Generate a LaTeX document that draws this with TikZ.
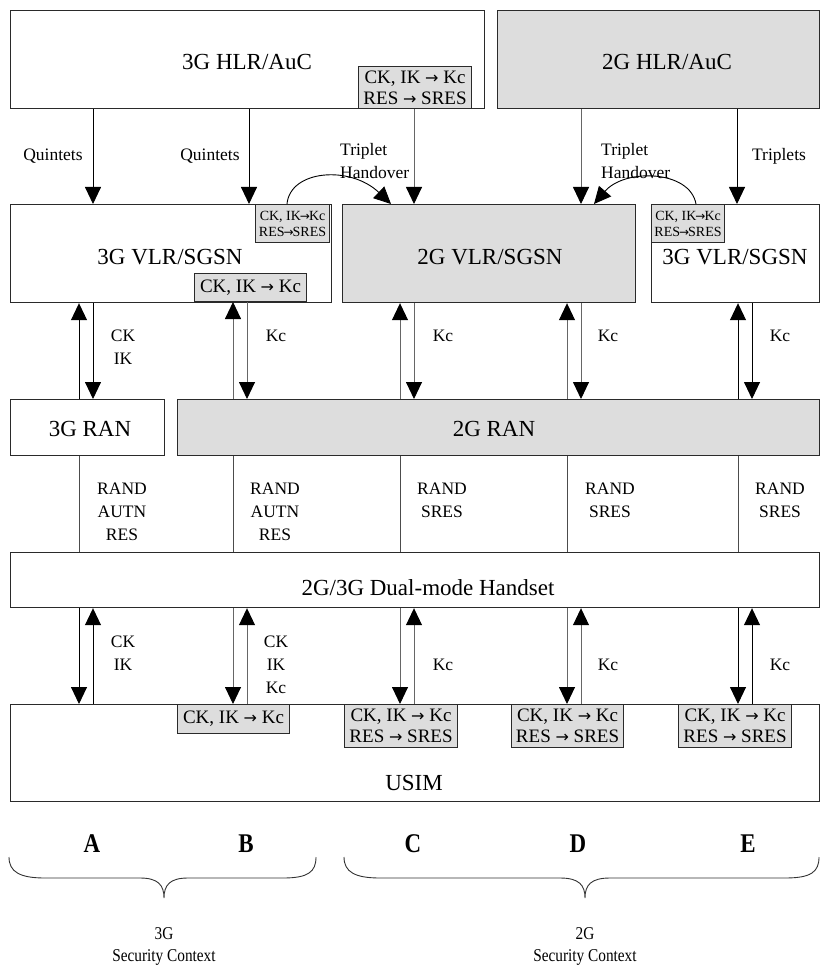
\documentclass[tikz,border=0pt]{standalone}
\usepackage{fontspec}
\setmainfont{Liberation Serif}
\newfontfamily\narrowserif[FakeStretch=0.85]{Liberation Serif}
\newfontfamily\arrowfont{DejaVu Sans}
\newcommand\rarr[1]{{\arrowfont\fontsize{#1}{#1}\selectfont →}}
\usetikzlibrary{arrows.meta}

\definecolor{boxgray}{HTML}{DDDDDD}
\definecolor{edge}{HTML}{2A2A2A}

\tikzset{
  unit/.style={draw=edge, line width=1.2pt, rectangle, inner sep=0pt, anchor=north west},
  unitgray/.style={unit, fill=boxgray},
  calc/.style={draw=edge, line width=1.1pt, fill=boxgray, inner sep=0pt, anchor=north west,
               align=center, font=\fontsize{19}{21}\selectfont},
  calcsmall/.style={calc, font=\fontsize{14}{16}\selectfont},
  title/.style={font=\fontsize{23}{27}\selectfont, inner sep=0pt},
  tag/.style={font=\fontsize{17.5}{23}\selectfont, align=center, inner sep=0pt},
  flow/.style={line width=0.9pt, draw=black, -{Triangle[length=17pt,width=16pt,color=black]}},
  flowg/.style={flow, draw=black!60},
  wire/.style={line width=0.9pt, draw=black!70},
  letter/.style={font=\fontsize{27}{30}\narrowserif\bfseries, inner sep=0pt},
  ctx/.style={font=\fontsize{18}{22}\narrowserif, align=center, inner sep=0pt},
  brace/.style={line width=0.9pt, draw=black!80},
}

\begin{document}
\begin{tikzpicture}[x=1pt, y=-1pt]
\useasboundingbox (0,0) rectangle (820,965);

% column positions of the signal lines
\coordinate (cA1) at (79,0);   \coordinate (cA2) at (93,0);
\coordinate (cB1) at (233,0);  \coordinate (cB2) at (247,0);
\coordinate (cC1) at (400,0);  \coordinate (cC2) at (414,0);
\coordinate (cD1) at (567,0);  \coordinate (cD2) at (581,0);
\coordinate (cE1) at (738,0);  \coordinate (cE2) at (752,0);
\coordinate (q2) at (249,0);   \coordinate (tr) at (737,0);
\coordinate (hoA) at (287,0);  \coordinate (hoAe) at (391,0);
\coordinate (hoB) at (696,0);  \coordinate (hoBe) at (594,0);

% home registers
\node[unit, minimum width=474pt, minimum height=98pt] (hlr3) at (10,10) {};
\node[title] (hlr3t) at (247,62) {3G HLR/AuC};
\node[calc, minimum width=113pt, minimum height=42pt] (hlr3c) at (358,66) {CK, IK \rarr{16} Kc\\RES \rarr{16} SRES};
\node[unitgray, minimum width=322pt, minimum height=98pt] (hlr2) at (497,10) {};
\node[title] (hlr2t) at (667,62) {2G HLR/AuC};

% visited registers
\node[unit, minimum width=321pt, minimum height=98pt] (vlr3a) at (10,204) {};
\node[title] (vlr3at) at (170,257) {3G VLR/SGSN};
\node[calcsmall, minimum width=74pt, minimum height=38pt] (vlr3ac) at (255,204) {CK, IK\kern-1pt\rarr{12}\kern-1ptKc\\RES\kern-1pt\rarr{12}\kern-1ptSRES};
\node[calc, minimum width=112pt, minimum height=28pt, anchor=south west] (vlr3ak) at (194,302) {CK, IK \rarr{16} Kc};
\node[unitgray, minimum width=293pt, minimum height=98pt] (vlr2) at (342,204) {};
\node[title] (vlr2t) at (490,257) {2G VLR/SGSN};
\node[unit, minimum width=168pt, minimum height=98pt] (vlr3b) at (651,204) {};
\node[title] (vlr3bt) at (735,257) {3G VLR/SGSN};
\node[calcsmall, minimum width=73pt, minimum height=38pt] (vlr3bc) at (651,204) {CK, IK\kern-1pt\rarr{12}\kern-1ptKc\\RES\kern-1pt\rarr{12}\kern-1ptSRES};

% radio access networks
\node[unit, minimum width=154pt, minimum height=56pt] (ran3) at (10,399) {};
\node[title] (ran3t) at (90,429) {3G RAN};
\node[unitgray, minimum width=642pt, minimum height=56pt] (ran2) at (177,399) {};
\node[title] (ran2t) at (494,429) {2G RAN};

% handset
\node[unit, minimum width=809pt, minimum height=55pt] (hset) at (10,552) {};
\node[title] (hsett) at (428,588) {2G/3G Dual-mode Handset};

% USIM with its conversion functions
\node[unit, minimum width=809pt, minimum height=97pt] (usim) at (10,704) {};
\node[title] (usimt) at (414,783) {USIM};
\node[calc, minimum width=112pt, minimum height=29pt] (usimB) at (177,704) {CK, IK \rarr{16} Kc};
\node[calc, minimum width=113pt, minimum height=43pt] (usimC) at (344,704) {CK, IK \rarr{16} Kc\\RES \rarr{16} SRES};
\node[calc, minimum width=112pt, minimum height=43pt] (usimD) at (511,704) {CK, IK \rarr{16} Kc\\RES \rarr{16} SRES};
\node[calc, minimum width=113pt, minimum height=43pt] (usimE) at (678,704) {CK, IK \rarr{16} Kc\\RES \rarr{16} SRES};

% HLR -> VLR
\draw[flow] (hlr3.south -| cA2) -- (vlr3a.north -| cA2);
\draw[flow] (hlr3.south -| q2) -- (vlr3a.north -| q2);
\draw[flowg] (hlr3c.south -| cC2) -- (vlr2.north -| cC2);
\draw[flowg] (hlr2.south -| cD2) -- (vlr2.north -| cD2);
\draw[flow] (hlr2.south -| tr) -- (vlr3b.north -| tr);
\node[tag] (lq1) at (53,156) {Quintets};
\node[tag] (lq2) at (210,156) {Quintets};
\node[tag, align=left, anchor=west] (lh1) at (340,161) {Triplet\\Handover};
\node[tag, align=left, anchor=west] (lh2) at (601,161) {Triplet\\Handover};
\node[tag] (lt) at (779,156) {Triplets};

% triplet handovers between visited registers
\draw[flow] (vlr3ac.north -| hoA) .. controls +(3,-34) and +(-41,-39) .. (vlr2.north -| hoAe);
\draw[flow] (vlr3bc.north -| hoB) .. controls +(-6,-34) and +(31,-36) .. (vlr2.north -| hoBe);

% VLR <-> RAN
\draw[flow] (ran3.north -| cA1) -- (vlr3a.south -| cA1);
\draw[flow] (vlr3a.south -| cA2) -- (ran3.north -| cA2);
\draw[flowg] (ran2.north -| cB1) -- (vlr3ak.south -| cB1);
\draw[flowg] (vlr3ak.south -| cB2) -- (ran2.north -| cB2);
\draw[flowg] (ran2.north -| cC1) -- (vlr2.south -| cC1);
\draw[flowg] (vlr2.south -| cC2) -- (ran2.north -| cC2);
\draw[flowg] (ran2.north -| cD1) -- (vlr2.south -| cD1);
\draw[flowg] (vlr2.south -| cD2) -- (ran2.north -| cD2);
\draw[flow] (ran2.north -| cE1) -- (vlr3b.south -| cE1);
\draw[flow] (vlr3b.south -| cE2) -- (ran2.north -| cE2);
\node[tag] (l2a) at (123,347) {CK\\IK};
\node[tag] (l2b) at (276,336) {Kc};
\node[tag] (l2c) at (443,336) {Kc};
\node[tag] (l2d) at (608,336) {Kc};
\node[tag] (l2e) at (780,336) {Kc};

% RAN <-> handset (air interface)
\draw[wire] (ran3.south -| cA1) -- (hset.north -| cA1);
\draw[wire] (ran2.south -| cB1) -- (hset.north -| cB1);
\draw[wire] (ran2.south -| cC1) -- (hset.north -| cC1);
\draw[wire] (ran2.south -| cD1) -- (hset.north -| cD1);
\draw[wire] (ran2.south -| cE1) -- (hset.north -| cE1);
\node[tag] (l3a) at (122,512) {RAND\\AUTN\\RES};
\node[tag] (l3b) at (275,512) {RAND\\AUTN\\RES};
\node[tag] (l3c) at (442,500) {RAND\\SRES};
\node[tag] (l3d) at (610,500) {RAND\\SRES};
\node[tag] (l3e) at (780,500) {RAND\\SRES};

% handset <-> USIM
\draw[flow] (hset.south -| cA1) -- (usim.north -| cA1);
\draw[flow] (usim.north -| cA2) -- (hset.south -| cA2);
\draw[flowg] (hset.south -| cB1) -- (usimB.north -| cB1);
\draw[flowg] (usimB.north -| cB2) -- (hset.south -| cB2);
\draw[flowg] (hset.south -| cC1) -- (usimC.north -| cC1);
\draw[flowg] (usimC.north -| cC2) -- (hset.south -| cC2);
\draw[flowg] (hset.south -| cD1) -- (usimD.north -| cD1);
\draw[flowg] (usimD.north -| cD2) -- (hset.south -| cD2);
\draw[flow] (hset.south -| cE1) -- (usimE.north -| cE1);
\draw[flow] (usimE.north -| cE2) -- (hset.south -| cE2);
\node[tag] (l4a) at (123,653) {CK\\IK};
\node[tag] (l4b) at (276,665) {CK\\IK\\Kc};
\node[tag] (l4c) at (443,665) {Kc};
\node[tag] (l4d) at (608,665) {Kc};
\node[tag] (l4e) at (780,665) {Kc};

% scenario letters
\node[letter] (sA) at (92,844) {A};
\node[letter] (sB) at (246,844) {B};
\node[letter] (sC) at (413,844) {C};
\node[letter] (sD) at (578,844) {D};
\node[letter] (sE) at (748,844) {E};

% grouping braces
\draw[brace] (9,857) .. controls (9,872) and (20,878) .. (45,878) -- (140,878)
  .. controls (158,878) and (164,885) .. (164,898)
  .. controls (164,885) and (170,878) .. (188,878) -- (283,878)
  .. controls (308,878) and (316,872) .. (316,857);
\draw[brace] (344,857) .. controls (344,872) and (355,878) .. (380,878) -- (560,878)
  .. controls (579,878) and (585,885) .. (585,898)
  .. controls (585,885) and (591,878) .. (610,878) -- (785,878)
  .. controls (811,878) and (819,872) .. (819,857);
\node[ctx] (ctx3) at (164,946) {3G\\Security Context};
\node[ctx] (ctx2) at (585,946) {2G\\Security Context};
\end{tikzpicture}
\end{document}
